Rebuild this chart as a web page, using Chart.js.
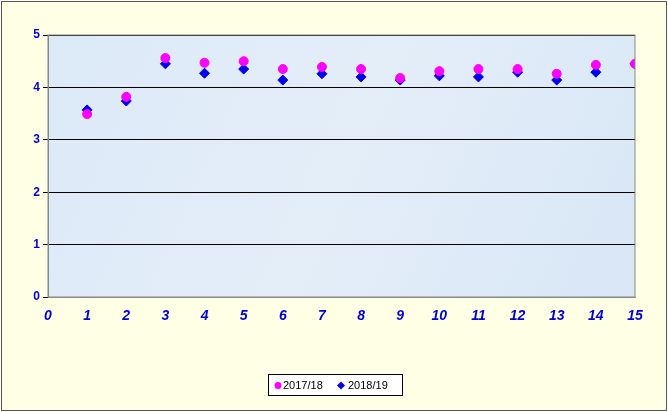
<!DOCTYPE html>
<html>
<head>
<script src="https://cdn.jsdelivr.net/npm/chart.js@4"></script>
<style>
body { margin: 0; background: #fff; }
#wrap { position: absolute; left: 1px; top: 1px; width: 664px; height: 408px; background: #ffffe6; border: 1px solid #555; }
</style>
</head>
<body>
<div id="wrap"><canvas id="c" width="664" height="408"></canvas></div>
<script>
const xs = [1, 2, 3, 4, 5, 6, 7, 8, 9, 10, 11, 12, 13, 14, 15];
const s1718 = [3.49, 3.82, 4.56, 4.47, 4.50, 4.35, 4.39, 4.35, 4.18, 4.31, 4.35, 4.35, 4.26, 4.43, 4.45];
const s1819 = [3.57, 3.74, 4.45, 4.27, 4.35, 4.14, 4.26, 4.20, 4.14, 4.22, 4.20, 4.29, 4.14, 4.29, 4.45];

const plotBg = {
    id: 'plotBg',
    beforeDraw(chart) {
        const a = chart.chartArea, ctx = chart.ctx;
        ctx.save();
        const g = ctx.createLinearGradient(a.left, a.top, a.right, a.bottom);
        g.addColorStop(0, '#dce9f7');
        g.addColorStop(0.5, '#e4eef9');
        g.addColorStop(1, '#d8e6f5');
        ctx.fillStyle = g;
        ctx.fillRect(a.left, a.top, a.right - a.left, a.bottom - a.top);
        ctx.restore();
    },
    afterDraw(chart) {
        const a = chart.chartArea, ctx = chart.ctx;
        ctx.save();
        ctx.strokeStyle = '#888';
        ctx.strokeRect(a.left, a.top, a.right - a.left, a.bottom - a.top);
        // hand-drawn legend, like the Excel one
        const bx = 266, by = 372, bw = 134, bh = 21;
        ctx.fillStyle = '#fff';
        ctx.fillRect(bx, by, bw, bh);
        ctx.strokeStyle = '#000';
        ctx.strokeRect(bx + 0.5, by + 0.5, bw, bh);
        ctx.font = '11px "Liberation Sans"';
        ctx.textBaseline = 'middle';
        const cy = by + bh / 2 + 1;
        ctx.fillStyle = chart.data.datasets[0].backgroundColor;
        ctx.beginPath(); ctx.arc(bx + 10, cy, 3.5, 0, Math.PI * 2); ctx.fill();
        ctx.fillStyle = '#000';
        ctx.fillText(chart.data.datasets[0].label, bx + 15, cy);
        ctx.fillStyle = chart.data.datasets[1].backgroundColor;
        ctx.beginPath();
        ctx.moveTo(bx + 73, cy - 4); ctx.lineTo(bx + 77, cy); ctx.lineTo(bx + 73, cy + 4); ctx.lineTo(bx + 69, cy);
        ctx.fill();
        ctx.fillStyle = '#000';
        ctx.fillText(chart.data.datasets[1].label, bx + 80, cy);
        ctx.restore();
    }
};

new Chart(document.getElementById('c'), {
    type: 'scatter',
    data: {
        datasets: [
            {
                label: '2017/18',
                data: xs.map((x, i) => ({ x: x, y: s1718[i] })),
                backgroundColor: '#ff00ff',
                borderColor: '#ff00ff',
                pointStyle: 'circle',
                pointRadius: 4.5,
            },
            {
                label: '2018/19',
                data: xs.map((x, i) => ({ x: x, y: s1819[i] })),
                backgroundColor: '#0000ee',
                borderColor: '#0000ee',
                pointStyle: 'rectRot',
                pointRadius: 5,
            },
        ],
    },
    options: {
        responsive: false,
        animation: false,
        layout: { padding: { left: 0, right: 31, top: 33, bottom: 0 } },
        plugins: {
            tooltip: { enabled: false },
            legend: { display: false },
        },
        scales: {
            x: {
                type: 'linear',
                min: 0,
                max: 15,
                ticks: { stepSize: 1, color: '#0000cc', font: { family: 'Liberation Sans', size: 14, weight: 'bold', style: 'italic' } },
                grid: { display: false },
                border: { color: '#888' },
                afterFit(s) { s.height = 113; },
            },
            y: {
                min: 0,
                max: 5,
                ticks: { stepSize: 1, color: '#0000cc', font: { family: 'Liberation Sans', size: 12, weight: 'bold' } },
                grid: { color: '#000', tickColor: '#000', tickLength: 5 },
                border: { color: '#888' },
                afterFit(s) { s.width = 46; },
            },
        },
    },
    plugins: [plotBg],
});
</script>
</body>
</html>
